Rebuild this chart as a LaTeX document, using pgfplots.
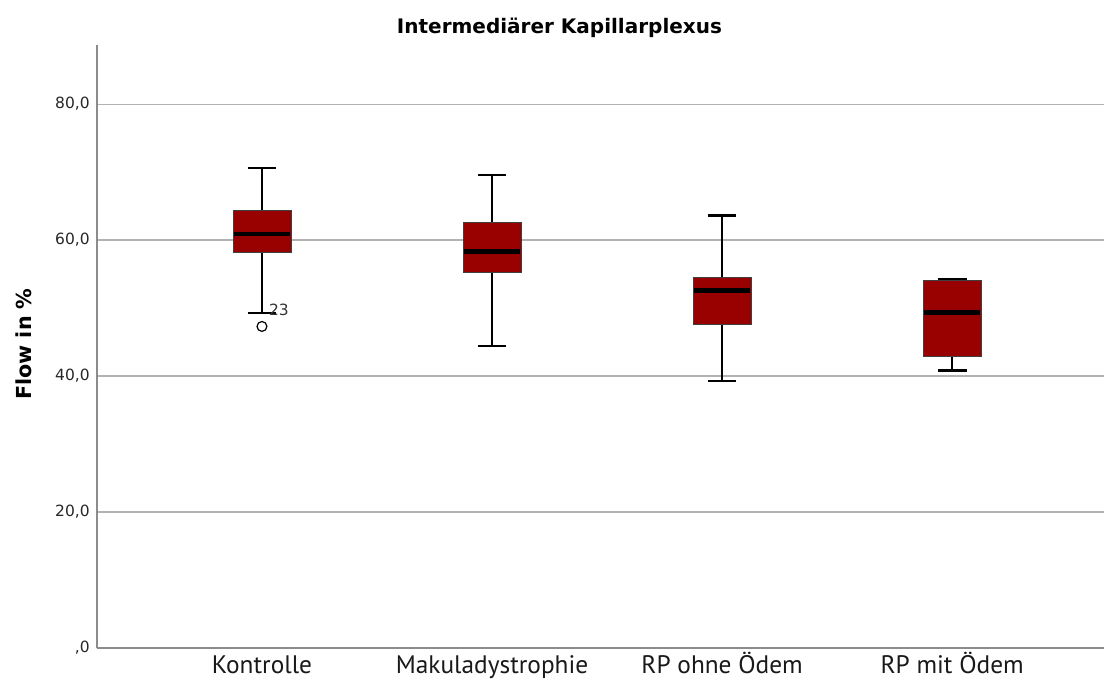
\documentclass[border=0pt]{standalone}
\usepackage{pgfplots}
\pgfplotsset{compat=1.18}
\usepackage{fontspec}
\setmainfont{DejaVu Sans}
\newfontfamily\catfont{PT Sans}
\definecolor{boxred}{RGB}{153,0,0}
\begin{document}
\begin{tikzpicture}
\path[use as bounding box] (0pt,0pt) rectangle (828pt,509.25pt);
\begin{axis}[
  at={(72.75pt,23.25pt)}, anchor=south west,
  scale only axis, width=755.25pt, height=452.25pt,
  xmin=-0.717, xmax=3.66, ymin=0, ymax=88.7,
  axis lines*=left,
  axis line style={draw=black!45, line width=1pt},
  major tick length=0pt,
  ytick={0,20,40,60,80},
  yticklabels={{,0},{20,0},{40,0},{60,0},{80,0}},
  ymajorgrids,
  major grid style={black!30, line width=0.9pt},
  xtick={0,1,2,3},
  xticklabels={Kontrolle,Makuladystrophie,RP ohne Ödem,RP mit Ödem},
  xticklabel style={font=\catfont\fontsize{19}{22}\selectfont, anchor=base, yshift=-19pt, text=black!90},
  yticklabel style={font=\fontsize{11.6}{13}\selectfont, xshift=-2pt, text=black!85},
  unbounded coords=jump,
]
% whiskers: stem from quartile to whisker end, plus caps
\addplot[black, line width=1.9pt, mark=none] coordinates {
  (0,64.3) (0,70.6) (nan,nan) (-0.0625,70.6) (0.0625,70.6) (nan,nan)
  (0,58.2) (0,49.3) (nan,nan) (-0.0625,49.3) (0.0625,49.3) (nan,nan)
  (1,62.6) (1,69.6) (nan,nan) (0.9375,69.6) (1.0625,69.6) (nan,nan)
  (1,55.2) (1,44.4) (nan,nan) (0.9375,44.4) (1.0625,44.4) (nan,nan)
  (2,54.5) (2,63.6) (nan,nan) (1.9375,63.6) (2.0625,63.6) (nan,nan)
  (2,47.6) (2,39.3) (nan,nan) (1.9375,39.3) (2.0625,39.3) (nan,nan)
  (3,54.1) (3,54.3) (nan,nan) (2.9375,54.3) (3.0625,54.3) (nan,nan)
  (3,42.9) (3,40.8) (nan,nan) (2.9375,40.8) (3.0625,40.8)
};
% boxes: lower quartile to upper quartile
\addplot[fill=boxred, draw=black!75, line width=0.6pt, mark=none] coordinates {(-0.126,58.2) (0.126,58.2) (0.126,64.3) (-0.126,64.3)} -- cycle;
\addplot[fill=boxred, draw=black!75, line width=0.6pt, mark=none] coordinates {(0.874,55.2) (1.126,55.2) (1.126,62.6) (0.874,62.6)} -- cycle;
\addplot[fill=boxred, draw=black!75, line width=0.6pt, mark=none] coordinates {(1.874,47.6) (2.126,47.6) (2.126,54.5) (1.874,54.5)} -- cycle;
\addplot[fill=boxred, draw=black!75, line width=0.6pt, mark=none] coordinates {(2.874,42.9) (3.126,42.9) (3.126,54.1) (2.874,54.1)} -- cycle;
% medians
\addplot[black, line width=3.6pt, mark=none] coordinates {
  (-0.122,60.9) (0.122,60.9) (nan,nan)
  (0.878,58.3) (1.122,58.3) (nan,nan)
  (1.878,52.6) (2.122,52.6) (nan,nan)
  (2.878,49.3) (3.122,49.3)
};
% outlier
\addplot[only marks, mark=o, mark size=3.7pt, black, line width=0.9pt] coordinates {(0,47.3)};
\node[anchor=west, inner sep=0pt, font=\fontsize{11.6}{13}\selectfont, text=black!80] at (axis cs:0.03,49.7) {23};
\end{axis}
\node[font=\bfseries\fontsize{15}{18}\selectfont] at (419.6pt,488.25pt) {Intermediärer Kapillarplexus};
\node[rotate=90, font=\bfseries\fontsize{15.5}{18}\selectfont] at (18pt,251.25pt) {Flow in \%};
\end{tikzpicture}
\end{document}
